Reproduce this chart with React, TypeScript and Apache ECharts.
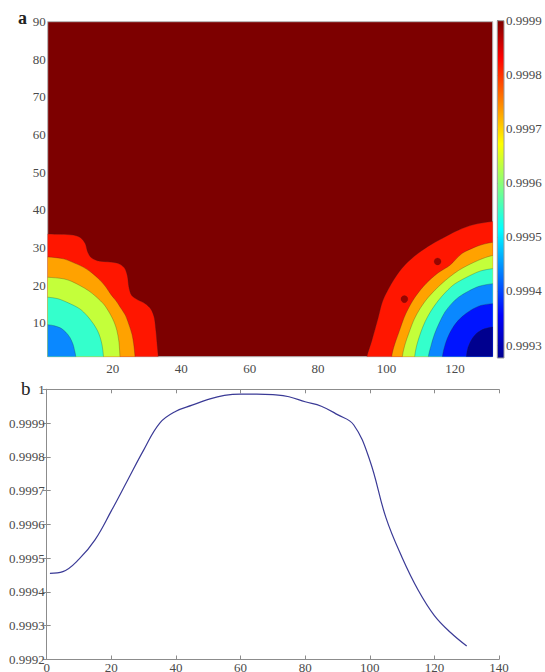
import React, { useEffect, useRef } from 'react';
import * as echarts from 'echarts';

// ---------- Panel a: contour map ----------
const mapXTicks = [20, 40, 60, 80, 100, 120];
const mapYTicks = [10, 20, 30, 40, 50, 60, 70, 80, 90];
const mapXRange = [1, 131];
const mapYRange = [1, 90];

// contour band colours (low -> high), jet colormap
const bandColors = ['#00008f', '#0014ff', '#0a88ff', '#34ffcc', '#c4ff3a', '#ffa200', '#ff1600', '#7d0000'];

// colour bar
const colorbarTicks = [0.9993, 0.9994, 0.9995, 0.9996, 0.9997, 0.9998, 0.9999];
const colorbarRange = [0.999276, 0.9999];
const jetStops = [
  [0, '#00008f'],
  [0.127, '#0000ff'],
  [0.381, '#00ffff'],
  [0.635, '#ffff00'],
  [0.889, '#ff0000'],
  [1, '#7d0000'],
];

// contour boundaries (data coordinates)
const leftCorner = [-20, -20];
const rightCorner = [150, -20];

const leftRed = [[-3, 33.6], [1, 33.6], [5, 33.5], [8.5, 33.3], [10.6, 32.6], [12, 31], [12.6, 29], [13.6, 27.4], [15.5, 26.5], [18.5, 26.2], [21.5, 25.8], [23.4, 24.6], [24.3, 22.4], [24.7, 19.6], [25.5, 17.3], [27.3, 16.1], [29.5, 15.1], [31.1, 13.7], [32.1, 11.5], [32.6, 8], [33, 4], [33.3, 1], [33.4, -3]];
const leftOrange = [[-3, 27.6], [1, 27.5], [5.6, 27], [9, 25.8], [11.4, 24.8], [14, 23.2], [16.3, 21.3], [18, 19.5], [19.4, 17.6], [21, 15.8], [22.3, 14], [23.7, 12], [24.7, 9.6], [25.6, 7], [26.1, 4.5], [26.5, 1], [26.6, -3]];
const leftYellow = [[-3, 22.2], [1, 22.1], [5.6, 21.7], [8, 21], [10.4, 19.9], [13, 18.5], [15.3, 16.8], [17.5, 14.8], [19.2, 12.4], [20.4, 10.2], [21.2, 8], [21.8, 5], [22.1, 1], [22.2, -3]];
const leftCyan = [[-3, 16.9], [1, 16.8], [4, 16.4], [7, 15.3], [10.4, 13.7], [12.5, 11.9], [14.3, 9.8], [15.5, 8], [16.3, 6.2], [16.9, 4], [17.3, 1], [17.4, -3]];
const leftBlue = [[-3, 9.6], [1, 9.5], [3, 9.2], [4.8, 8.6], [6.3, 7.5], [7.5, 6.1], [8.4, 4.3], [8.9, 2.5], [9.2, 1], [9.3, -3]];

const rightRed = [[134, 37], [130.8, 36.9], [125.5, 36.1], [120.9, 34.6], [116.2, 32.4], [112.1, 30.3], [108, 27.6], [104.5, 24.5], [101.6, 20.7], [98.9, 15.9], [97.5, 11.2], [95.7, 5.3], [94.2, 0.8], [94, -3]];
const rightOrange = [[134, 31.5], [131, 31.4], [128, 30.8], [125.8, 30.1], [122, 28.4], [118.5, 25.3], [115.1, 23.3], [111.5, 20.4], [108.3, 16.8], [105.6, 12.4], [103.6, 7.5], [102.1, 3.5], [101.5, 1], [101.4, -3]];
const rightYellow = [[134, 28], [131, 27.9], [126.8, 26.6], [121, 23.9], [116.1, 20.4], [112.2, 16.8], [109.8, 13.8], [108.1, 11], [106.6, 7.5], [105.3, 4], [104.6, 1], [104.5, -3]];
const rightCyan = [[134, 24.5], [131, 24.4], [127.5, 23.8], [124.9, 22.8], [120, 20.4], [117.3, 18.2], [115.1, 15.9], [113, 13.2], [111.3, 10.4], [110, 7.5], [108.8, 4], [108.2, 1], [108.1, -3]];
const rightLightBlue = [[134, 20.5], [131, 20.4], [127, 19.7], [123.9, 18.4], [121, 16.8], [119, 15.1], [117, 12.8], [115.3, 9.8], [114, 7], [113, 4], [112.2, 1], [112.1, -3]];
const rightBlue = [[134, 15.2], [131, 15.1], [127.5, 14.6], [124.5, 13.3], [122, 11.6], [120, 9.6], [118.4, 7.2], [117.2, 4.5], [116.3, 1], [116.2, -3]];
const rightNavy = [[134, 9], [131, 8.9], [128.5, 8.4], [126.3, 7.2], [124.8, 5.5], [123.8, 3.5], [123.3, 1], [123.2, -3]];

// small closed high-value contours inside the right red band
const islandPoints = [[105.2, 16.3], [114.9, 26.3]];

const contourRegions = [
  { pts: leftRed, corner: leftCorner, level: 6 },
  { pts: leftOrange, corner: leftCorner, level: 5 },
  { pts: leftYellow, corner: leftCorner, level: 4 },
  { pts: leftCyan, corner: leftCorner, level: 3 },
  { pts: leftBlue, corner: leftCorner, level: 2 },
  { pts: rightRed, corner: rightCorner, level: 6 },
  { pts: rightOrange, corner: rightCorner, level: 5 },
  { pts: rightYellow, corner: rightCorner, level: 4 },
  { pts: rightCyan, corner: rightCorner, level: 3 },
  { pts: rightLightBlue, corner: rightCorner, level: 2 },
  { pts: rightBlue, corner: rightCorner, level: 1 },
  { pts: rightNavy, corner: rightCorner, level: 0 },
];

// ---------- Panel b: line ----------
const lineX = [1, 5, 10, 15, 20, 25, 30, 35, 40, 45, 50, 55, 60, 65, 70, 75, 80, 85, 90, 95, 100, 105, 110, 115, 120, 125, 130];
const lineY = [0.999455, 0.99946, 0.999497, 0.999555, 0.99964, 0.99973, 0.99982, 0.9999, 0.999935, 0.999953, 0.99997, 0.999982, 0.999986, 0.999986, 0.999984, 0.999978, 0.999963, 0.99995, 0.999925, 0.999895, 0.99979, 0.99962, 0.999502, 0.999405, 0.99933, 0.99928, 0.99924];
const lineXRange = [0, 140];
const lineYRange = [0.9992, 1];

const FONT = 'Liberation Serif, Times New Roman, DejaVu Serif, serif';
const LABEL_COLOR = '#4a4a4a';
const AXIS_COLOR = '#8c8c8c';

export default function App() {
  const ref = useRef<HTMLDivElement>(null);

  useEffect(() => {
    if (!ref.current) return;
    const chart = echarts.init(ref.current, null, { renderer: 'svg' });

    const labelStyle = { color: LABEL_COLOR, fontSize: 13, fontFamily: FONT };
    const fmt = (v: number) => (Math.abs(v - 1) < 1e-9 ? '1' : v.toFixed(4));

    const option: any = {
      animation: false,
      backgroundColor: '#ffffff',
      textStyle: { fontFamily: FONT },
      title: [
        { text: 'a', left: 13, top: 4, textStyle: { fontFamily: FONT, fontSize: 18, fontWeight: 'bold', color: '#222' } },
        { text: 'b', left: 16, top: 374, textStyle: { fontFamily: FONT, fontSize: 19, fontWeight: 'normal', color: '#222' } },
      ],
      grid: [
        { left: 47.7, top: 21.7, width: 445, height: 335, show: true, backgroundColor: bandColors[7], borderColor: '#b5b5b5', borderWidth: 1, containLabel: false, outerBoundsMode: 'none' },
        { left: 497.3, top: 20.7, width: 6.7, height: 337.3, containLabel: false, outerBoundsMode: 'none' },
        { left: 46.7, top: 389.3, width: 452.3, height: 270.2, containLabel: false, outerBoundsMode: 'none' },
      ],
      xAxis: [
        {
          gridIndex: 0, type: 'value', min: mapXRange[0], max: mapXRange[1],
          axisLine: { show: false }, axisTick: { show: false }, splitLine: { show: false },
          axisLabel: { ...labelStyle, margin: 5, customValues: mapXTicks },
        },
        { gridIndex: 1, type: 'value', min: 0, max: 1, show: false },
        {
          gridIndex: 2, type: 'value', position: 'bottom', min: lineXRange[0], max: lineXRange[1], interval: 20,
          axisLine: { show: true, lineStyle: { color: AXIS_COLOR, width: 1 } },
          axisTick: { show: true, inside: true, length: 4, lineStyle: { color: AXIS_COLOR } },
          splitLine: { show: false },
          axisLabel: { ...labelStyle, margin: 1 },
        },
        {
          gridIndex: 2, type: 'value', position: 'top', min: lineXRange[0], max: lineXRange[1], interval: 20,
          axisLine: { show: true, lineStyle: { color: AXIS_COLOR, width: 1 } },
          axisTick: { show: true, inside: true, length: 4, lineStyle: { color: AXIS_COLOR } },
          splitLine: { show: false }, axisLabel: { show: false },
        },
      ],
      yAxis: [
        {
          gridIndex: 0, type: 'value', min: mapYRange[0], max: mapYRange[1],
          axisLine: { show: false }, axisTick: { show: false }, splitLine: { show: false },
          axisLabel: { ...labelStyle, margin: 2, customValues: mapYTicks },
        },
        {
          gridIndex: 1, type: 'value', position: 'right', min: colorbarRange[0], max: colorbarRange[1],
          axisLine: { show: false }, splitLine: { show: false },
          axisTick: { show: true, inside: false, length: 2, customValues: colorbarTicks, lineStyle: { color: '#666' } },
          axisLabel: { ...labelStyle, margin: 2, customValues: colorbarTicks, formatter: fmt },
        },
        {
          gridIndex: 2, type: 'value', position: 'left', min: lineYRange[0], max: lineYRange[1], interval: 0.0001,
          axisLine: { show: true, lineStyle: { color: AXIS_COLOR, width: 1 } },
          axisTick: { show: true, inside: true, length: 4, lineStyle: { color: AXIS_COLOR } },
          splitLine: { show: false },
          axisLabel: { ...labelStyle, margin: 2, formatter: fmt },
        },
        {
          gridIndex: 2, type: 'value', position: 'right', min: lineYRange[0], max: lineYRange[1], interval: 0.0001,
          axisLine: { show: true, lineStyle: { color: AXIS_COLOR, width: 1 } },
          axisTick: { show: true, inside: true, length: 4, lineStyle: { color: AXIS_COLOR } },
          splitLine: { show: false }, axisLabel: { show: false },
        },
      ],
      series: [
        {
          type: 'custom',
          xAxisIndex: 0, yAxisIndex: 0,
          clip: true,
          silent: true,
          data: contourRegions.map((r, i) => [i, r.level]),
          renderItem: (params: any, api: any) => {
            const region = contourRegions[params.dataIndex];
            const pts = [...region.pts, region.corner].map((p) => api.coord(p));
            const cs = params.coordSys;
            return {
              type: 'polygon',
              shape: { points: pts, smooth: 0.3 },
              style: { fill: bandColors[region.level], stroke: 'rgba(40,40,40,0.45)', lineWidth: 0.6 },
              clipPath: { type: 'rect', shape: { x: cs.x, y: cs.y, width: cs.width, height: cs.height } },
            };
          },
        },
        {
          type: 'scatter',
          xAxisIndex: 0, yAxisIndex: 0,
          symbolSize: 7,
          silent: true,
          z: 5,
          itemStyle: { color: bandColors[7], borderColor: 'rgba(40,40,40,0.4)', borderWidth: 0.5 },
          data: islandPoints,
        },
        {
          type: 'custom',
          xAxisIndex: 1, yAxisIndex: 1,
          silent: true,
          encode: { x: [0, 2], y: [1, 3] },
          data: [[0, colorbarRange[0], 1, colorbarRange[1]]],
          renderItem: (params: any, api: any) => {
            const p1 = api.coord([api.value(0), api.value(1)]);
            const p2 = api.coord([api.value(2), api.value(3)]);
            return {
              type: 'rect',
              shape: { x: p1[0], y: p2[1], width: p2[0] - p1[0], height: p1[1] - p2[1] },
              style: {
                fill: new echarts.graphic.LinearGradient(0, 1, 0, 0, jetStops.map(([o, c]) => ({ offset: o as number, color: c as string }))),
                stroke: '#9a9a9a',
                lineWidth: 1,
              },
            };
          },
        },
        {
          type: 'line',
          xAxisIndex: 2, yAxisIndex: 2,
          data: lineX.map((x, i) => [x, lineY[i]]),
          showSymbol: false,
          smooth: 0.4,
          silent: true,
          lineStyle: { color: '#3a3a96', width: 1.2 },
        },
      ],
    };

    chart.setOption(option);
    return () => chart.dispose();
  }, []);

  return <div ref={ref} style={{ position: 'absolute', left: 0, top: 0, width: 545, height: 672 }} />;
}
